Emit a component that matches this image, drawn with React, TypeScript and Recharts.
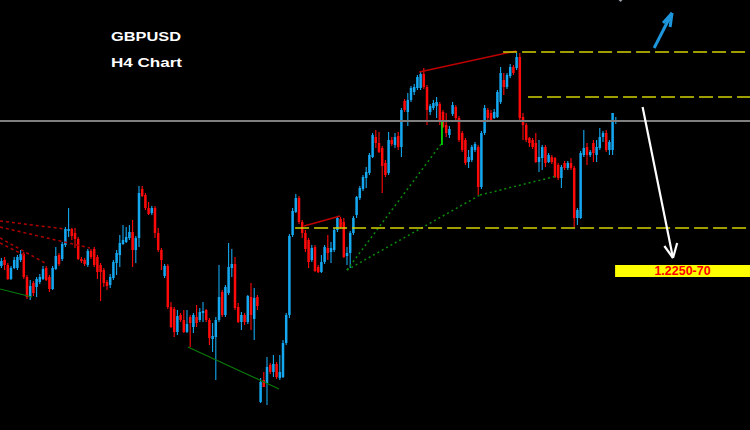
import { ComposedChart, Bar, XAxis, YAxis, ReferenceLine, ReferenceArea, ReferenceDot } from 'recharts';

// GBPUSD H4 candles (oldest first)
const open = [
  1.2254, 1.2260, 1.2255, 1.2241, 1.2252, 1.2252, 1.2260, 1.2266, 1.2243, 1.2223,
  1.2237, 1.2233, 1.2238, 1.2241, 1.2252, 1.2243, 1.2231, 1.2251, 1.2265, 1.2261,
  1.2275, 1.2289, 1.2291, 1.2287, 1.2281, 1.2261, 1.2260, 1.2255, 1.2269, 1.2271,
  1.2263, 1.2255, 1.2250, 1.2238, 1.2235, 1.2242, 1.2257, 1.2265, 1.2276, 1.2278,
  1.2282, 1.2288, 1.2270, 1.2282, 1.2331, 1.2325, 1.2312, 1.2307, 1.2312, 1.2287,
  1.2270, 1.2244, 1.2254, 1.2213, 1.2211, 1.2188, 1.2205, 1.2200, 1.2188, 1.2203,
  1.2193, 1.2203, 1.2200, 1.2207, 1.2210, 1.2200, 1.2181, 1.2183, 1.2200, 1.2228,
  1.2205, 1.2227, 1.2252, 1.2256, 1.2213, 1.2198, 1.2205, 1.2198, 1.2223, 1.2201,
  1.2223, 1.2118, 1.2140, 1.2137, 1.2155, 1.2148, 1.2156, 1.2142, 1.2143, 1.2177,
  1.2205, 1.2285, 1.2308, 1.2322, 1.2298, 1.2287, 1.2280, 1.2260, 1.2273, 1.2253,
  1.2248, 1.2258, 1.2272, 1.2268, 1.2270, 1.2290, 1.2301, 1.2298, 1.2264, 1.2267,
  1.2287, 1.2305, 1.2322, 1.2331, 1.2342, 1.2347, 1.2363, 1.2383, 1.2377, 1.2372,
  1.2357, 1.2347, 1.2380, 1.2375, 1.2384, 1.2373, 1.2419, 1.2408, 1.2420, 1.2428,
  1.2432, 1.2432, 1.2446, 1.2433, 1.2408, 1.2412, 1.2414, 1.2416, 1.2408, 1.2395,
  1.2385, 1.2406, 1.2413, 1.2402, 1.2387, 1.2380, 1.2358, 1.2360, 1.2370, 1.2373,
  1.2333, 1.2387, 1.2410, 1.2407, 1.2402, 1.2403, 1.2418, 1.2440, 1.2433, 1.2444,
  1.2453, 1.2452, 1.2463, 1.2403, 1.2395, 1.2382, 1.2380, 1.2377, 1.2358, 1.2362,
  1.2373, 1.2358, 1.2363, 1.2362, 1.2355, 1.2342, 1.2357, 1.2352, 1.2357, 1.2352,
  1.2302, 1.2302, 1.2365, 1.2373, 1.2365, 1.2377, 1.2365, 1.2372, 1.2383, 1.2387,
  1.2370, 1.2370, 1.2398,
];
const high = [
  1.2262, 1.2263, 1.2257, 1.2254, 1.2263, 1.2265, 1.2270, 1.2268, 1.2245, 1.2240,
  1.2239, 1.2243, 1.2246, 1.2254, 1.2254, 1.2245, 1.2254, 1.2273, 1.2267, 1.2278,
  1.2293, 1.2312, 1.2292, 1.2292, 1.2283, 1.2263, 1.2262, 1.2271, 1.2271, 1.2273,
  1.2265, 1.2257, 1.2252, 1.2240, 1.2246, 1.2260, 1.2270, 1.2285, 1.2295, 1.2293,
  1.2295, 1.2300, 1.2284, 1.2334, 1.2334, 1.2327, 1.2318, 1.2314, 1.2314, 1.2292,
  1.2272, 1.2256, 1.2256, 1.2218, 1.2213, 1.2210, 1.2207, 1.2210, 1.2210, 1.2205,
  1.2207, 1.2215, 1.2212, 1.2218, 1.2211, 1.2202, 1.2197, 1.2203, 1.2255, 1.2230,
  1.2235, 1.2277, 1.2271, 1.2263, 1.2217, 1.2208, 1.2207, 1.2225, 1.2237, 1.2232,
  1.2225, 1.2142, 1.2148, 1.2163, 1.2157, 1.2165, 1.2158, 1.2165, 1.2180, 1.2207,
  1.2286, 1.2312, 1.2326, 1.2324, 1.2300, 1.2290, 1.2282, 1.2275, 1.2275, 1.2255,
  1.2265, 1.2275, 1.2285, 1.2278, 1.2292, 1.2304, 1.2303, 1.2302, 1.2273, 1.2289,
  1.2304, 1.2324, 1.2334, 1.2345, 1.2353, 1.2367, 1.2387, 1.2390, 1.2388, 1.2374,
  1.2360, 1.2388, 1.2383, 1.2387, 1.2388, 1.2412, 1.2421, 1.2427, 1.2434, 1.2436,
  1.2445, 1.2448, 1.2452, 1.2435, 1.2416, 1.2420, 1.2423, 1.2418, 1.2410, 1.2407,
  1.2394, 1.2418, 1.2415, 1.2404, 1.2389, 1.2382, 1.2370, 1.2375, 1.2378, 1.2375,
  1.2389, 1.2415, 1.2412, 1.2410, 1.2411, 1.2430, 1.2453, 1.2447, 1.2447, 1.2456,
  1.2455, 1.2467, 1.2467, 1.2407, 1.2397, 1.2383, 1.2382, 1.2387, 1.2380, 1.2375,
  1.2375, 1.2367, 1.2365, 1.2363, 1.2357, 1.2355, 1.2359, 1.2359, 1.2362, 1.2354,
  1.2312, 1.2369, 1.2390, 1.2377, 1.2370, 1.2380, 1.2380, 1.2392, 1.2389, 1.2390,
  1.2380, 1.2407, 1.2403,
];
const low = [
  1.2252, 1.2250, 1.2240, 1.2240, 1.2251, 1.2250, 1.2258, 1.2241, 1.2221, 1.2220,
  1.2224, 1.2223, 1.2236, 1.2240, 1.2239, 1.2228, 1.2230, 1.2250, 1.2254, 1.2259,
  1.2273, 1.2283, 1.2280, 1.2272, 1.2260, 1.2257, 1.2254, 1.2253, 1.2261, 1.2253,
  1.2241, 1.2219, 1.2233, 1.2230, 1.2232, 1.2240, 1.2245, 1.2253, 1.2275, 1.2277,
  1.2280, 1.2253, 1.2257, 1.2273, 1.2323, 1.2310, 1.2305, 1.2305, 1.2282, 1.2268,
  1.2250, 1.2242, 1.2211, 1.2192, 1.2183, 1.2185, 1.2198, 1.2187, 1.2187, 1.2173,
  1.2187, 1.2193, 1.2198, 1.2198, 1.2198, 1.2175, 1.2168, 1.2140, 1.2198, 1.2203,
  1.2203, 1.2225, 1.2243, 1.2210, 1.2197, 1.2190, 1.2195, 1.2196, 1.2190, 1.2180,
  1.2210, 1.2117, 1.2133, 1.2115, 1.2146, 1.2143, 1.2141, 1.2140, 1.2142, 1.2175,
  1.2202, 1.2283, 1.2307, 1.2296, 1.2282, 1.2268, 1.2252, 1.2258, 1.2248, 1.2247,
  1.2247, 1.2256, 1.2260, 1.2257, 1.2268, 1.2288, 1.2291, 1.2262, 1.2255, 1.2252,
  1.2285, 1.2302, 1.2320, 1.2329, 1.2332, 1.2345, 1.2362, 1.2372, 1.2367, 1.2327,
  1.2343, 1.2345, 1.2374, 1.2372, 1.2370, 1.2363, 1.2408, 1.2394, 1.2418, 1.2425,
  1.2430, 1.2430, 1.2431, 1.2395, 1.2405, 1.2410, 1.2402, 1.2395, 1.2392, 1.2383,
  1.2382, 1.2404, 1.2400, 1.2378, 1.2368, 1.2355, 1.2352, 1.2358, 1.2368, 1.2325,
  1.2331, 1.2385, 1.2400, 1.2398, 1.2401, 1.2402, 1.2416, 1.2425, 1.2431, 1.2442,
  1.2445, 1.2450, 1.2400, 1.2380, 1.2378, 1.2373, 1.2371, 1.2357, 1.2348, 1.2350,
  1.2353, 1.2357, 1.2356, 1.2342, 1.2340, 1.2332, 1.2350, 1.2350, 1.2350, 1.2293,
  1.2295, 1.2301, 1.2363, 1.2355, 1.2363, 1.2358, 1.2358, 1.2370, 1.2378, 1.2368,
  1.2365, 1.2365, 1.2396,
];
const close = [
  1.2259, 1.2255, 1.2241, 1.2252, 1.2260, 1.2263, 1.2266, 1.2243, 1.2223, 1.2234,
  1.2227, 1.2241, 1.2243, 1.2251, 1.2240, 1.2231, 1.2252, 1.2264, 1.2256, 1.2276,
  1.2291, 1.2291, 1.2284, 1.2281, 1.2261, 1.2259, 1.2256, 1.2269, 1.2263, 1.2255,
  1.2248, 1.2248, 1.2237, 1.2234, 1.2243, 1.2258, 1.2267, 1.2277, 1.2280, 1.2283,
  1.2288, 1.2270, 1.2282, 1.2327, 1.2324, 1.2312, 1.2306, 1.2312, 1.2287, 1.2270,
  1.2260, 1.2254, 1.2213, 1.2193, 1.2188, 1.2204, 1.2200, 1.2188, 1.2196, 1.2197,
  1.2205, 1.2197, 1.2208, 1.2209, 1.2200, 1.2182, 1.2184, 1.2200, 1.2223, 1.2205,
  1.2233, 1.2253, 1.2256, 1.2212, 1.2198, 1.2205, 1.2198, 1.2224, 1.2205, 1.2222,
  1.2214, 1.2138, 1.2133, 1.2153, 1.2148, 1.2156, 1.2143, 1.2148, 1.2177, 1.2205,
  1.2284, 1.2309, 1.2322, 1.2298, 1.2287, 1.2271, 1.2258, 1.2272, 1.2249, 1.2248,
  1.2258, 1.2273, 1.2267, 1.2272, 1.2290, 1.2302, 1.2293, 1.2263, 1.2267, 1.2287,
  1.2302, 1.2323, 1.2332, 1.2343, 1.2348, 1.2365, 1.2385, 1.2377, 1.2368, 1.2354,
  1.2345, 1.2380, 1.2376, 1.2383, 1.2373, 1.2410, 1.2410, 1.2420, 1.2432, 1.2433,
  1.2443, 1.2446, 1.2433, 1.2410, 1.2414, 1.2417, 1.2418, 1.2398, 1.2393, 1.2387,
  1.2391, 1.2415, 1.2402, 1.2380, 1.2370, 1.2357, 1.2363, 1.2373, 1.2376, 1.2333,
  1.2387, 1.2412, 1.2402, 1.2400, 1.2408, 1.2428, 1.2447, 1.2433, 1.2445, 1.2453,
  1.2447, 1.2463, 1.2402, 1.2395, 1.2380, 1.2377, 1.2373, 1.2358, 1.2363, 1.2373,
  1.2357, 1.2365, 1.2358, 1.2343, 1.2342, 1.2353, 1.2352, 1.2357, 1.2352, 1.2302,
  1.2310, 1.2367, 1.2372, 1.2365, 1.2368, 1.2367, 1.2373, 1.2383, 1.2387, 1.2370,
  1.2378, 1.2407, 1.2400,
];

const symbol = 'GBPUSD';
const timeframe = 'H4 Chart';
const targetText = '1.2250-70';
const bidPrice = 1.2399;

// drawn objects, in bar index / price units: [x1, price1, x2, price2]
const levels = [[156.9, 1.2468], [164.7, 1.2423], [91.9, 1.2292]];
const redTrends = [[94.7, 1.2294, 106.0, 1.2304], [130.7, 1.2448, 161.0, 1.2469]];
const redFans = [
  [-0.31, 1.2299, 20.0, 1.2291],
  [-0.31, 1.2293, 27.8, 1.2272],
  [-0.31, 1.2282, 13.75, 1.2257],
  [-0.31, 1.2277, 7.8, 1.2264],
];
const greenTrends = [[-0.31, 1.2231, 9.7, 1.2223], [58.4, 1.2173, 86.9, 1.2131]];
const greenFans = [
  [108.1, 1.2250, 137.8, 1.2377],
  [108.1, 1.2250, 149.7, 1.2325],
  [149.7, 1.2325, 173.75, 1.2344],
];
const greenMark = [137.8, 1.2398, 137.8, 1.2375];
const downArrow = [[200.5, 1.2413, 210.0, 1.2262], [207.3, 1.2274, 210.0, 1.2262], [211.3, 1.2277, 210.0, 1.2262]];
const upArrow = [[204.1, 1.2472, 209.7, 1.2507], [206.9, 1.2497, 209.7, 1.2507], [209.1, 1.2493, 209.7, 1.2507]];
const targetBox = [191.9, 1.2243, 234.06, 1.2255];

const X_DOMAIN = [-0.3125, 234.0625];
const Y_DOMAIN = [1.209, 1.252];
const BLUE = '#15a8f0';
const RED = '#ff0a0a';

const candles = open.map((o, i) => ({
  i,
  o,
  h: high[i],
  l: low[i],
  c: close[i],
  range: [low[i], high[i]],
}));

const Candle = (props: any) => {
  const { x, y, width, height, payload } = props;
  const top = Math.min(y, y + height);
  const bottom = Math.max(y, y + height);
  const span = payload.h - payload.l;
  const toY = (p: number) => (span === 0 ? top : top + ((payload.h - p) / span) * (bottom - top));
  const cx = x + width / 2;
  const color = payload.c >= payload.o ? BLUE : RED;
  const bTop = toY(Math.max(payload.o, payload.c));
  const bBot = toY(Math.min(payload.o, payload.c));
  return (
    <g>
      <line x1={cx} x2={cx} y1={top} y2={bottom} stroke={color} strokeWidth={1.1} />
      <rect x={cx - 1.25} y={bTop} width={2.5} height={Math.max(1, bBot - bTop)} fill={color} />
    </g>
  );
};

const seg = (s: number[], key: string, stroke: string, width: number, dash?: string) => (
  <ReferenceLine
    key={key}
    segment={[{ x: s[0], y: s[1] }, { x: s[2], y: s[3] }]}
    stroke={stroke}
    strokeWidth={width}
    strokeDasharray={dash}
    ifOverflow="visible"
  />
);

const Diamond = (props: any) => {
  const { cx, cy } = props;
  return <polygon points={`${cx - 5},${cy} ${cx},${cy - 5} ${cx + 5},${cy} ${cx},${cy + 5}`} fill="#9aa0a6" />;
};

export default function App() {
  return (
    <div style={{ position: 'absolute', left: 0, top: 0, width: 750, height: 430, background: '#000' }}>
      <ComposedChart width={750} height={430} data={candles} margin={{ top: 0, right: 0, bottom: 0, left: 0 }}>
        <XAxis dataKey="i" type="number" domain={X_DOMAIN} allowDataOverflow hide />
        <YAxis type="number" domain={Y_DOMAIN} allowDataOverflow hide />
        <ReferenceLine y={bidPrice} stroke="#7f7f7f" strokeWidth={2} />
        {redFans.map((s, k) => seg(s, 'rf' + k, '#b00000', 1.5, '3 3'))}
        {greenTrends.map((s, k) => seg(s, 'gt' + k, '#087a08', 1.2))}
        {greenFans.map((s, k) => seg(s, 'gf' + k, '#0a8a0a', 1.5, '2 3'))}
        <Bar dataKey="range" barSize={2} shape={Candle} isAnimationActive={false} />
        {redTrends.map((s, k) => seg(s, 'rt' + k, '#c00000', 1.5))}
        {seg(greenMark, 'gm', '#00ff00', 1.5)}
        {levels.map((l, k) => seg([l[0], l[1], X_DOMAIN[1], l[1]], 'lv' + k, '#d2d200', 1.5, '14 5'))}
        {downArrow.map((s, k) => seg(s, 'da' + k, '#ffffff', 2.2))}
        {upArrow.map((s, k) => seg(s, 'ua' + k, '#1e96dc', 3))}
        <ReferenceDot x={193.6} y={1.2523} r={5} shape={Diamond} ifOverflow="visible" />
        <ReferenceArea
          x1={targetBox[0]}
          x2={targetBox[2]}
          y1={targetBox[1]}
          y2={targetBox[3]}
          fill="#ffff00"
          fillOpacity={1}
          ifOverflow="visible"
          label={{
            value: targetText,
            position: 'center',
            fill: '#ff0000',
            fontSize: 12.5,
            fontWeight: 'bold',
            fontFamily: '"Liberation Sans", Arial, sans-serif',
          }}
        />
      </ComposedChart>
      <svg width={750} height={430} style={{ position: 'absolute', left: 0, top: 0, pointerEvents: 'none' }}>
        <text x={111} y={40.5} fill="#fff" fontSize={13} fontWeight="bold" fontFamily='"Liberation Sans", Arial, sans-serif' textLength={70} lengthAdjust="spacingAndGlyphs">
          {symbol}
        </text>
        <text x={111} y={67} fill="#fff" fontSize={13} fontWeight="bold" fontFamily='"Liberation Sans", Arial, sans-serif' textLength={71} lengthAdjust="spacingAndGlyphs">
          {timeframe}
        </text>
      </svg>
    </div>
  );
}
